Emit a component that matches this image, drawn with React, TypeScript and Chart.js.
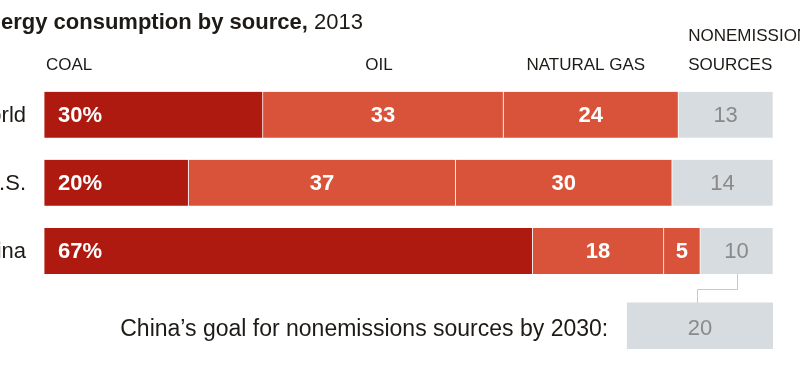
import React, { useEffect, useRef } from 'react';
import { Chart, registerables } from 'chart.js';

Chart.register(...registerables);

// ---- data ----
const rows = ['World', 'U.S.', 'China'];
const coal = [30, 20, 67];
const oil = [33, 37, 18];
const gas = [24, 30, 5];
const nonemission = [13, 14, 10];
const sourceNames = ['COAL', 'OIL', 'NATURAL GAS', 'NONEMISSIONS SOURCES'];
const goalLabel = 'China\u2019s goal for nonemissions sources by 2030:';
const goalValue = 20;
const titleBold = 'Energy consumption by source,';
const titleYear = ' 2013';

// ---- styles ----
const INK = '#1e1a16';
const GRAY_TEXT = '#8a8a8a';
const COAL_RED = '#ae1a0f';
const FOSSIL_RED = '#d9533b';
const CLEAN_GRAY = '#d6dcdf';
const FONT = '"Liberation Sans", Arial, sans-serif';

const series = [coal, oil, gas, nonemission];
const seriesColors = [COAL_RED, FOSSIL_RED, FOSSIL_RED, CLEAN_GRAY];
const totals = rows.map((_, i) => series.reduce((s, arr) => s + arr[i], 0));

const annotate = {
  id: 'annotate',
  afterDatasetsDraw(chart: any) {
    const { ctx } = chart;
    ctx.save();
    ctx.textBaseline = 'alphabetic';

    // Title (cropped at the left edge like the reference)
    ctx.fillStyle = INK;
    ctx.font = `bold 22px ${FONT}`;
    const hidden = ctx.measureText('En').width;
    const tx = 1 - hidden;
    ctx.textAlign = 'left';
    ctx.fillText(titleBold, tx, 29);
    const bw = ctx.measureText(titleBold).width;
    ctx.font = `22px ${FONT}`;
    ctx.fillText(titleYear, tx + bw, 29);

    const seg = (k: number, i: number) => {
      const el = chart.getDatasetMeta(k).data[i];
      return el.getProps(['x', 'base', 'y', 'height'], true);
    };

    // Column headers placed over the World bar segments
    ctx.font = `17px ${FONT}`;
    ctx.fillStyle = INK;
    const c0 = seg(0, 0);
    ctx.textAlign = 'left';
    ctx.fillText(sourceNames[0], Math.min(c0.base, c0.x) + 2, 70);
    const c1 = seg(1, 0);
    ctx.textAlign = 'center';
    ctx.fillText(sourceNames[1], (c1.base + c1.x) / 2 - 4, 70);
    const c2 = seg(2, 0);
    ctx.fillText(sourceNames[2], (c2.base + c2.x) / 2 - 5, 70);
    const c3 = seg(3, 0);
    ctx.textAlign = 'left';
    const parts = sourceNames[3].split(' ');
    ctx.fillText(parts[0], c3.base + 10, 41);
    ctx.fillText(parts[1], c3.base + 10, 70);

    // Row labels and values
    rows.forEach((name, i) => {
      const first = seg(0, i);
      ctx.font = `22px ${FONT}`;
      ctx.fillStyle = INK;
      ctx.textAlign = 'right';
      ctx.fillText(name, first.base - 18, first.y + 7.5);
      series.forEach((arr, k) => {
        const p = seg(k, i);
        if (k === 0) {
          ctx.font = `bold 22px ${FONT}`;
          ctx.fillStyle = '#ffffff';
          ctx.textAlign = 'left';
          ctx.fillText(`${arr[i]}%`, p.base + 14, p.y + 7.5);
        } else if (k < 3) {
          ctx.font = `bold 22px ${FONT}`;
          ctx.fillStyle = '#ffffff';
          ctx.textAlign = 'center';
          ctx.fillText(`${arr[i]}`, (p.base + p.x) / 2, p.y + 7.5);
        } else {
          ctx.font = `22px ${FONT}`;
          ctx.fillStyle = GRAY_TEXT;
          ctx.textAlign = 'center';
          ctx.fillText(`${arr[i]}`, (p.base + p.x) / 2, p.y + 7.5);
        }
      });
    });

    // Goal box label and value
    const g = seg(4, 4);
    ctx.font = `22px ${FONT}`;
    ctx.fillStyle = GRAY_TEXT;
    ctx.textAlign = 'center';
    ctx.fillText(`${goalValue}`, (g.base + g.x) / 2, g.y + 9);
    ctx.font = `23px ${FONT}`;
    ctx.fillStyle = INK;
    ctx.textAlign = 'right';
    ctx.fillText(goalLabel, g.base - 19, g.y + 10.5);

    // Connector from China's nonemission segment to the goal box
    const cn = seg(3, 2);
    const sx = Math.round((cn.base + cn.x) / 2) + 0.5;
    const sy = cn.y + cn.height / 2;
    const gx = Math.round((g.base + g.x) / 2) - 2.5;
    const gy = g.y - g.height / 2;
    const my = Math.round(sy + 15) + 0.5;
    ctx.strokeStyle = '#c8c8c8';
    ctx.lineWidth = 1;
    ctx.beginPath();
    ctx.moveTo(sx, sy);
    ctx.lineTo(sx, my);
    ctx.lineTo(gx, my);
    ctx.lineTo(gx, gy);
    ctx.stroke();

    ctx.restore();
  },
};

export default function App() {
  const ref = useRef<HTMLCanvasElement | null>(null);

  useEffect(() => {
    document.body.style.margin = '0';
    const canvas = ref.current;
    if (!canvas) return;

    const datasets: any[] = series.map((arr, k) => ({
      label: sourceNames[k],
      data: arr.map((v, i) => (v / totals[i]) * 100),
      backgroundColor: seriesColors[k],
      borderColor: 'rgba(255,245,242,0.9)',
      borderWidth: { left: 0.75, right: 0.75, top: 0, bottom: 0 },
      borderSkipped: false,
      barThickness: 46,
      grouped: false,
      yAxisID: 'y',
      stack: 'mix',
    }));
    datasets.push({
      label: 'goal',
      data: [null, null, null, null, [100 - goalValue, 100]],
      backgroundColor: CLEAN_GRAY,
      borderWidth: 0,
      barThickness: 46,
      grouped: false,
      yAxisID: 'y2',
      stack: 'goal',
    });

    const chart = new Chart(canvas, {
      type: 'bar',
      data: { labels: [...rows, ''], datasets },
      options: {
        indexAxis: 'y',
        animation: false,
        responsive: false,
        maintainAspectRatio: false,
        layout: { padding: { left: 44, right: 27, top: 80.75, bottom: 13 } },
        plugins: { legend: { display: false }, tooltip: { enabled: false }, title: { display: false } },
        scales: {
          x: { type: 'linear', min: 0, max: 100, stacked: true, display: false },
          y: { type: 'category', labels: [...rows, ''], stacked: true, display: false, offset: true },
          y2: { type: 'category', labels: ['', '', '', '', 'goal'], stacked: true, display: false, offset: true, position: 'left' },
        },
      } as any,
      plugins: [annotate],
    });
    return () => chart.destroy();
  }, []);

  return (
    <div style={{ width: 800, height: 366, background: '#fff' }}>
      <canvas ref={ref} width={800} height={366} style={{ display: 'block', width: 800, height: 366 }} />
    </div>
  );
}
